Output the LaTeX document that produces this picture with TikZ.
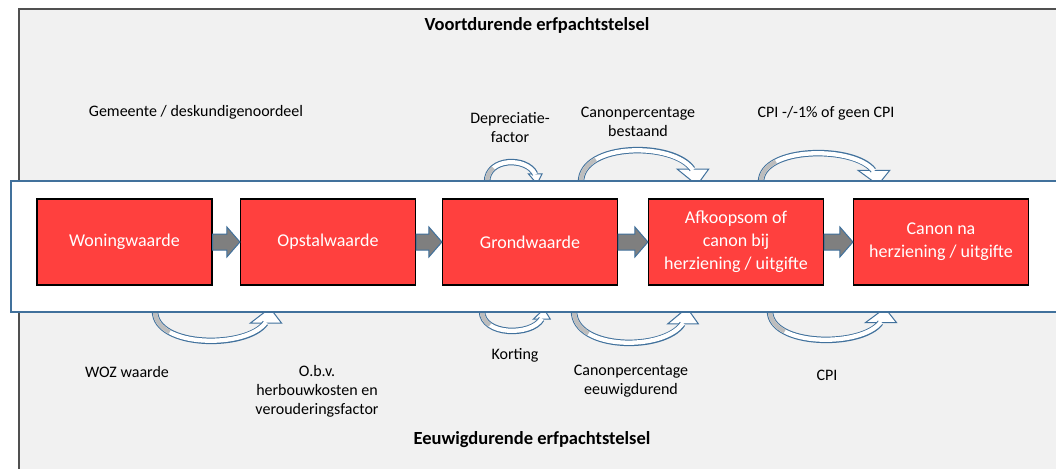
\documentclass[tikz,border=0pt]{standalone}
\usepackage{fontspec}
\setmainfont{Carlito}
\definecolor{panelfill}{HTML}{F1F1F1}
\definecolor{paneldraw}{HTML}{505050}
\definecolor{bandblue}{HTML}{41719C}
\definecolor{boxred}{HTML}{FF403E}
\definecolor{blockgray}{HTML}{7F7F7F}
\definecolor{slivergray}{HTML}{BDBDBD}
\tikzset{
  redbox/.style={draw=black, line width=1.2pt, fill=boxred, text=white,
    minimum width=175pt, minimum height=86pt, inner sep=2pt, align=center,
    font=\fontsize{18}{23}\selectfont},
  lbl/.style={inner sep=0pt, align=center, font=\fontsize{16}{19}\selectfont},
  ttl/.style={inner sep=0pt, align=center, font=\fontsize{18.5}{22}\selectfont\bfseries},
  blockarrow/.style={draw=bandblue, line width=1pt, fill=blockgray},
  bandout/.style={draw=bandblue, line width=6.5pt},
  bandin/.style={draw=white, line width=4.3pt},
  bandgray/.style={draw=slivergray, line width=4.3pt},
  headstyle/.style={draw=bandblue, line width=1pt, fill=white, line join=miter},
}
\newcommand{\carrow}[4]{% #1 foot x, #2 base y, #3 xscale, #4 yscale
  \begin{scope}[shift={(#1,#2)}, xscale=#3, yscale=#4]
    \path[headstyle] (83,12) -- (110,12) -- (100,-3) -- cycle;
    \draw[bandout] (0,-3) -- (0,0) .. controls (0,37) and (80,38) .. (96,12);
    \draw[bandin] (0,-3) -- (0,0) .. controls (0,37) and (80,38) .. (96.5,11.2);
    \draw[bandgray] (0,-3) -- (0,0) .. controls (0,9.25) and (5,16.25) .. (12.75,21.125);
  \end{scope}}
\newcommand{\blockarr}[2]{%
  \path[blockarrow] ([yshift=8pt]#1.east) -- ([xshift=-13pt,yshift=8pt]#2.west)
    -- ([xshift=-13pt,yshift=15pt]#2.west) -- (#2.west)
    -- ([xshift=-13pt,yshift=-15pt]#2.west) -- ([xshift=-13pt,yshift=-8pt]#2.west)
    -- ([yshift=-8pt]#1.east) -- cycle;}
\begin{document}
\begin{tikzpicture}[x=1pt, y=-1pt]
\useasboundingbox (0,0) rectangle (1056,468);
\clip (0,0) rectangle (1056,468);
% grey panel
\path[draw=paneldraw, line width=1.5pt, fill=panelfill] (19,9) rectangle (1080,490);
% curved arrows above the band
\carrow{487}{182}{0.50}{-0.667}
\carrow{581}{182}{1.16}{-1.067}
\carrow{761}{182}{1.17}{-0.967}
% curved arrows below the band
\carrow{155}{311}{1.15}{1.0}
\carrow{482}{311}{0.62}{0.667}
\carrow{574}{311}{1.13}{1.067}
\carrow{770}{311}{1.15}{0.967}
% white band
\path[draw=bandblue, line width=1.5pt, fill=white] (11,181) rectangle (1080,312);
% red boxes
\node[redbox] (b1) at (124.5,242) {Woningwaarde};
\node[redbox] (b2) at (328,242) {Opstalwaarde};
\node[redbox] (b3) at (530,242) {Grondwaarde};
\node[redbox] (b4) at (736,242) {Afkoopsom of\\canon bij\\herziening / uitgifte};
\node[redbox] (b5) at (941,242) {Canon na\\herziening / uitgifte};
\blockarr{b1}{b2}
\blockarr{b2}{b3}
\blockarr{b3}{b4}
\blockarr{b4}{b5}
% labels
\node[ttl] (ttop) at (537,25) {Voortdurende erfpachtstelsel};
\node[ttl] (tbot) at (532,440) {Eeuwigdurende erfpachtstelsel};
\node[lbl] (lgem) at (196,112) {Gemeente / deskundigenoordeel};
\node[lbl] (ldep) at (510,128) {Depreciatie-\\factor};
\node[lbl] (lcpb) at (638,122) {Canonpercentage\\bestaand};
\node[lbl] (lcpa) at (826,113) {CPI -/-1\% of geen CPI};
\node[lbl] (lwoz) at (127,372) {WOZ waarde};
\node[lbl] (lobv) at (317,391) {O.b.v.\\herbouwkosten en\\verouderingsfactor};
\node[lbl] (lkor) at (515,355) {Korting};
\node[lbl] (lcpe) at (631,381) {Canonpercentage\\eeuwigdurend};
\node[lbl] (lcpi) at (827,375) {CPI};
\end{tikzpicture}
\end{document}
